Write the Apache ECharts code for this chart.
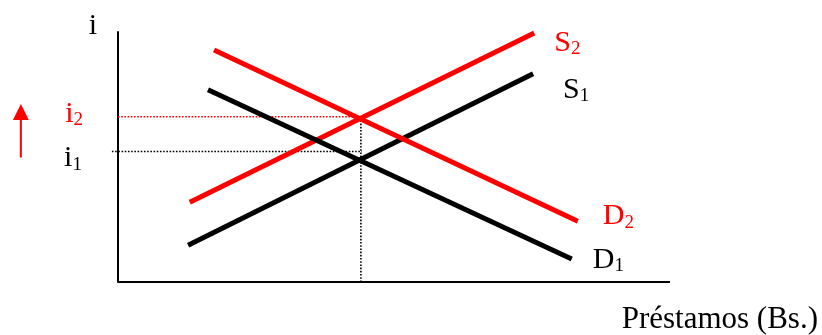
<!DOCTYPE html>
<html>
<head>
<meta charset="utf-8">
<script src="https://cdn.jsdelivr.net/npm/echarts@6/dist/echarts.min.js"></script>
<style>
  html, body { margin: 0; padding: 0; background: #fff; }
  #chart { width: 822px; height: 335px; }
</style>
</head>
<body>
<div id="chart"></div>
<script>
// curve end points, the plotted quadrant runs 0..100 on both axes
const supplyS1 = [[12.7, 14.7], [75.2, 83.3]];
const supplyS2 = [[13.0, 31.9], [75.4, 99.6]];
const demandD1 = [[16.3, 76.9], [82.2, 9.2]];
const demandD2 = [[17.4, 92.8], [83.3, 24.3]];
// guide lines for the equilibria
const guideI1 = [[-1.1, 52.2], [44.2, 52.2]];
const guideI2 = [[0, 66.1], [43.8, 66.1]];
const guideQ = [[44.0, 0], [44.0, 66.6]];
// horizontal axis (quantity) segment
const baseLine = [[0, 0], [100, 0]];
// the rising-rate arrow on the left (shaft start, head centre)
const arrowUp = [[-17.6, 49.8], [-17.6, 68.0]];

const RED = '#ff0000';
const FONT = 'Liberation Serif';

function rich(color) {
  return {
    m: { fontSize: 30, fontFamily: FONT, color: color, lineHeight: 32 },
    s: { fontSize: 19, fontFamily: FONT, color: color, lineHeight: 19, verticalAlign: 'bottom' }
  };
}

// put a subscripted label on one end of a segment
function withLabel(pts, which, main, sub, color, position, offset) {
  return pts.map((p, i) => {
    if (i !== which) return p;
    return {
      value: p,
      label: {
        show: true,
        position: position,
        distance: 0,
        offset: offset,
        formatter: '{m|' + main + '}{s|' + sub + '}',
        rich: rich(color)
      }
    };
  });
}

function curve(data, color) {
  return {
    type: 'line',
    data: data,
    symbol: 'circle',
    symbolSize: 0,
    clip: false,
    lineStyle: { color: color, width: 5, cap: 'butt' },
    itemStyle: { color: color },
    z: 3
  };
}

function dotted(data, color) {
  return {
    type: 'line',
    data: data,
    symbol: 'circle',
    symbolSize: 0,
    clip: false,
    lineStyle: { color: color, width: 1.6, type: [1.6, 1.6] },
    itemStyle: { color: color },
    z: 2
  };
}

const chart = echarts.init(document.getElementById('chart'));
chart.setOption({
  animation: false,
  grid: { left: 7.6, top: 32, right: 152, bottom: 52 },
  xAxis: {
    type: 'value', min: -20, max: 100,
    axisLine: { show: false },
    axisTick: { show: false }, axisLabel: { show: false }, splitLine: { show: false },
    name: 'Préstamos (Bs.)',
    nameLocation: 'end',
    nameGap: 148,
    nameTextStyle: {
      fontFamily: FONT, fontSize: 31, color: '#000',
      align: 'right', verticalAlign: 'top', padding: [22, 0, 0, 0]
    }
  },
  yAxis: {
    type: 'value', min: 0, max: 100,
    axisLine: { show: true, onZero: true, lineStyle: { color: '#000', width: 2 } },
    axisTick: { show: false }, axisLabel: { show: false }, splitLine: { show: false },
    name: 'i',
    nameLocation: 'end',
    nameGap: -9,
    nameTextStyle: {
      fontFamily: FONT, fontSize: 30, color: '#000',
      align: 'center', verticalAlign: 'bottom', padding: [0, 50, 0, 0]
    }
  },
  series: [
    {
      type: 'line',
      data: baseLine,
      symbol: 'none',
      lineStyle: { color: '#000', width: 2 },
      z: 1
    },
    dotted(withLabel(guideI2, 0, 'i', '2', RED, 'left', [-35, -3]), RED),
    dotted(withLabel(guideI1, 0, 'i', '1', '#000', 'left', [-30, 7]), '#000'),
    dotted(guideQ, '#000'),
    curve(withLabel(supplyS2, 1, 'S', '2', RED, 'right', [20, 10]), RED),
    curve(withLabel(supplyS1, 1, 'S', '1', '#000', 'right', [30, 16]), '#000'),
    curve(withLabel(demandD2, 1, 'D', '2', RED, 'right', [25, -5]), RED),
    curve(withLabel(demandD1, 1, 'D', '1', '#000', 'right', [21, 1]), '#000'),
    {
      type: 'line',
      data: [
        { value: arrowUp[0], symbol: 'none' },
        { value: arrowUp[1], symbol: 'triangle', symbolSize: [16, 16] }
      ],
      clip: false,
      itemStyle: { color: RED },
      lineStyle: { color: RED, width: 2 }
    }
  ]
});
</script>
</body>
</html>
